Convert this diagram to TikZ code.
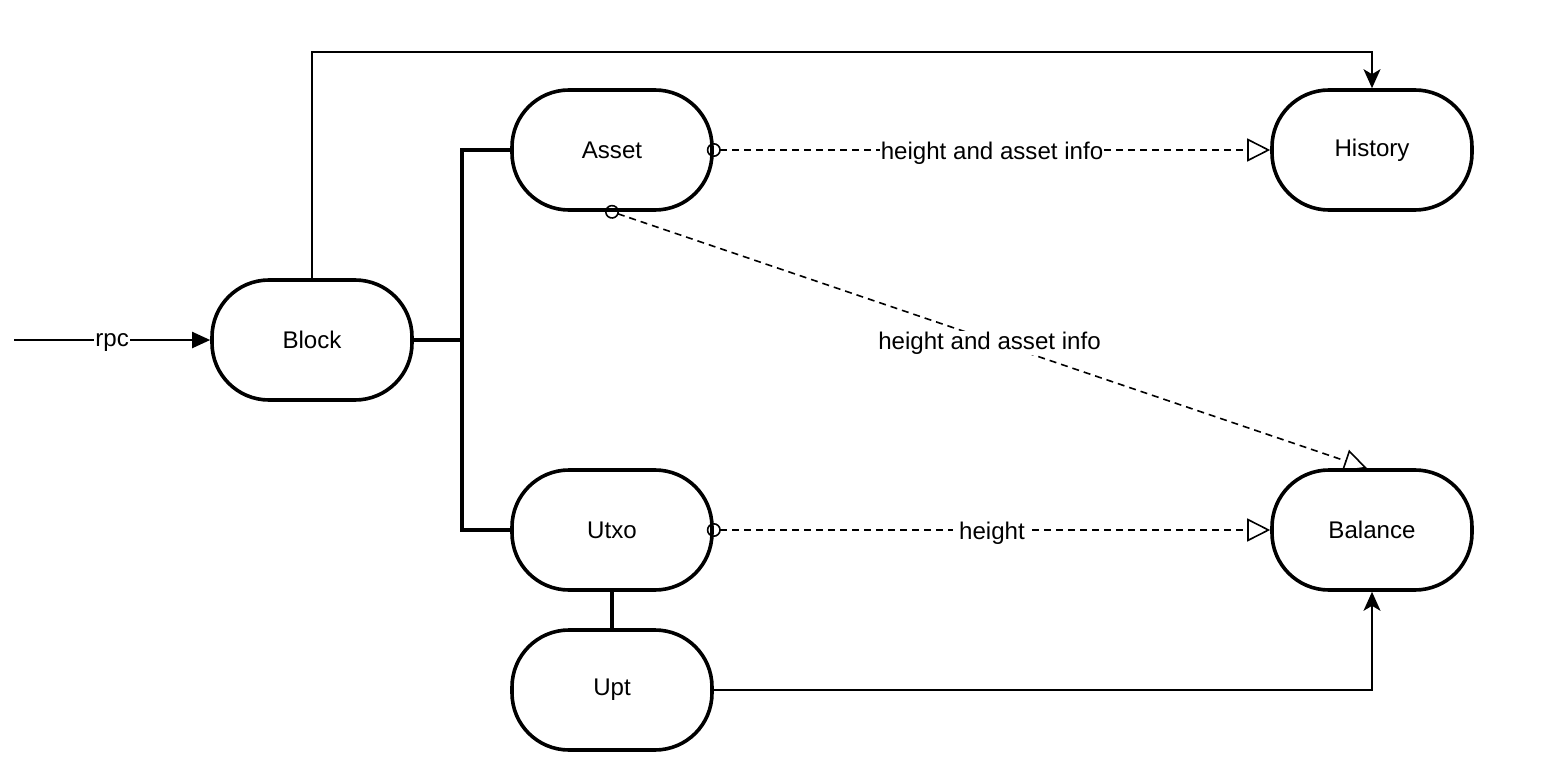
\documentclass[tikz,border=0pt]{standalone}
\usepackage{fontspec}
\setmainfont{Liberation Sans}
\usetikzlibrary{arrows.meta}
\begin{document}
\begin{tikzpicture}[x=1pt,y=-1pt,
  box/.style={draw, line width=3.6pt, rounded corners=57pt, minimum width=200pt,
    minimum height=120pt, inner sep=0pt, font=\fontsize{24.1}{28}\selectfont},
  conn/.style={line width=2pt},
  bus/.style={line width=3.3pt},
  dconn/.style={line width=1.6pt, dash pattern=on 7pt off 5pt},
  lab/.style={fill=white, inner sep=1pt, yshift=-3pt, font=\fontsize{24.1}{28}\selectfont},
  solidtip/.style={-{Stealth[length=19pt,width=17pt,inset=5pt]}},
  opentip/.style={{Circle[open,length=14pt,width=14pt,line width=1.6pt]}-{Triangle[open,length=23pt,width=23pt,line width=1.6pt]}, shorten <=-7pt}
]
\useasboundingbox (0,0) rectangle (1556,762);

\node[box] (block) at (312,340) {Block};
\node[box] (asset) at (612,150) {Asset};
\node[box] (history) at (1372,150) {History};
\node[box] (utxo) at (612,530) {Utxo};
\node[box] (balance) at (1372,530) {Balance};
\node[box] (upt) at (612,690) {Upt};

\coordinate (rpcstart) at (14,340);
\coordinate (busx) at (462,340);
\coordinate (toprow) at (1372,52);

\draw[conn, -{Triangle[length=18pt,width=16pt]}] (rpcstart) -- node[lab] {rpc} (block.west);
\draw[conn, solidtip] (block.north) |- (toprow) -- (history.north);
\draw[bus] (block.east) -- (busx);
\draw[bus] (asset.west) -| (busx) |- (utxo.west);
\draw[bus] (utxo.south) -- (upt.north);
\draw[conn, solidtip] (upt.east) -| (balance.south);

\draw[dconn, opentip] (asset.east) -- node[lab] {height and asset info} (history.west);
\draw[dconn, opentip] (asset.south) -- node[lab] {height and asset info} ([xshift=-5pt]balance.north);
\draw[dconn, opentip] (utxo.east) -- node[lab, inner xsep=6pt] {height} (balance.west);
\end{tikzpicture}
\end{document}
